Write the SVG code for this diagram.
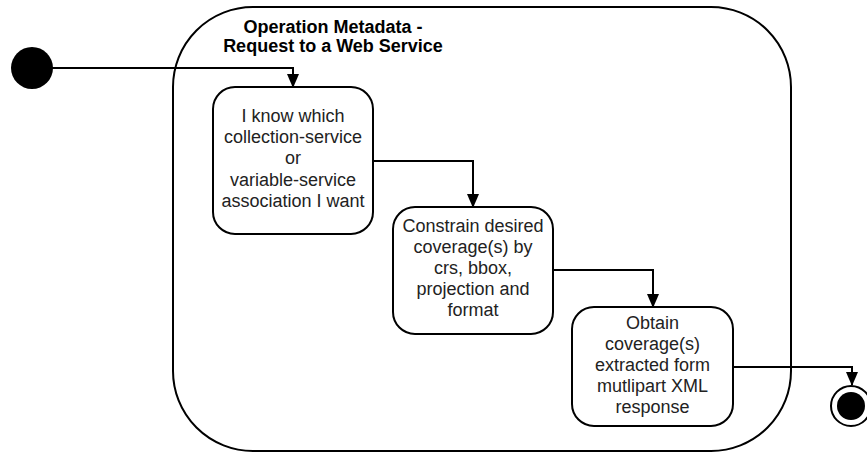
<svg xmlns="http://www.w3.org/2000/svg" width="867" height="453" viewBox="0 0 867 453">
  <defs>
    <style>
      .container { fill: #ffffff; stroke: #000000; stroke-width: 2; }
      .box { fill: #ffffff; stroke: #000000; stroke-width: 2; }
      .title { font-family: "Liberation Sans", Arial, sans-serif; font-size: 18px; font-weight: bold; fill: #000000; text-anchor: middle; }
      .label { font-family: "Liberation Sans", Arial, sans-serif; font-size: 18px; fill: #222222; text-anchor: middle; }
      .edge { fill: none; stroke: #000000; stroke-width: 2; marker-end: url(#arrow); }
    </style>
    <marker id="arrow" viewBox="0 0 14 12" refX="13" refY="6" markerWidth="14" markerHeight="12" markerUnits="userSpaceOnUse" orient="auto">
      <path d="M0,0 L14,6 L0,12 Z" fill="#000000"/>
    </marker>
  </defs>
  <rect width="867" height="453" fill="#ffffff"/>

  <g id="container">
    <rect class="container" x="173" y="7" width="618" height="444" rx="80" ry="80"/>
    <text class="title" x="333" y="33">Operation Metadata -</text>
    <text class="title" x="333" y="52">Request to a Web Service</text>
  </g>

  <g id="connectors">
    <path class="edge" d="M52,68 L293,68 L293,87"/>
    <path class="edge" d="M373,161 L473,161 L473,207"/>
    <path class="edge" d="M553,270 L653,270 L653,307"/>
    <path class="edge" d="M733,367 L852,367 L852,385"/>
  </g>

  <g id="initial">
    <circle cx="32" cy="68" r="21" fill="#000000"/>
  </g>

  <g id="step1">
    <rect class="box" x="213" y="87" width="160" height="147" rx="22" ry="22"/>
    <text class="label" x="293" y="122">I know which</text>
    <text class="label" x="293" y="143">collection-service</text>
    <text class="label" x="293" y="164">or</text>
    <text class="label" x="293" y="186">variable-service</text>
    <text class="label" x="293" y="207">association I want</text>
  </g>

  <g id="step2">
    <rect class="box" x="393" y="207" width="160" height="127" rx="22" ry="22"/>
    <text class="label" x="473" y="232">Constrain desired</text>
    <text class="label" x="473" y="253">coverage(s) by</text>
    <text class="label" x="473" y="274">crs, bbox,</text>
    <text class="label" x="473" y="295">projection and</text>
    <text class="label" x="473" y="316">format</text>
  </g>

  <g id="step3">
    <rect class="box" x="572" y="307" width="161" height="119" rx="22" ry="22"/>
    <text class="label" x="652.5" y="329">Obtain</text>
    <text class="label" x="652.5" y="350">coverage(s)</text>
    <text class="label" x="652.5" y="371">extracted form</text>
    <text class="label" x="652.5" y="392">mutlipart XML</text>
    <text class="label" x="652.5" y="413">response</text>
  </g>

  <g id="final">
    <circle cx="851" cy="406" r="20" fill="#ffffff" stroke="#000000" stroke-width="2"/>
    <circle cx="851" cy="406" r="14" fill="#000000"/>
  </g>
</svg>
